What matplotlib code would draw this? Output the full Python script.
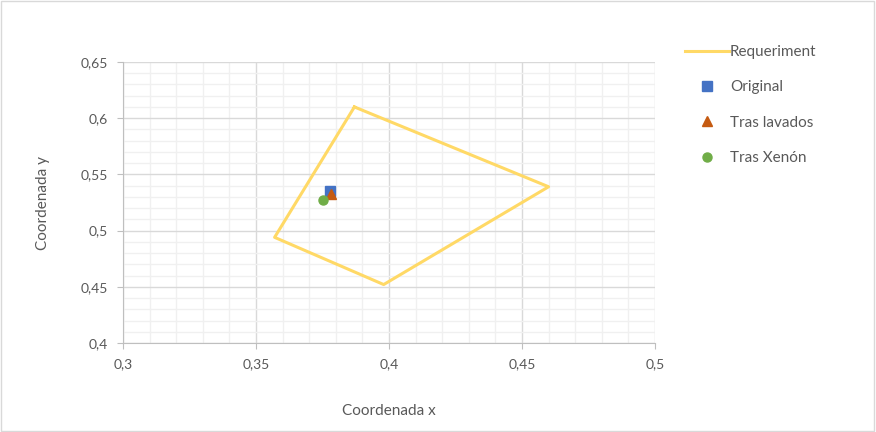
import matplotlib
matplotlib.use("Agg")
import matplotlib.pyplot as plt
from matplotlib.ticker import MultipleLocator, FuncFormatter
from matplotlib.lines import Line2D
from matplotlib.patches import Rectangle

# Data
req_x = [0.387, 0.460, 0.398, 0.357, 0.387]
req_y = [0.610, 0.539, 0.452, 0.494, 0.610]
orig_x = [0.3777]
orig_y = [0.5350]
lav_x = [0.3782]
lav_y = [0.5330]
xen_x = [0.3753]
xen_y = [0.5272]
series_labels = ["Requeriment", "Original", "Tras lavados", "Tras Xenón"]
x_label = "Coordenada x"
y_label = "Coordenada y"

plt.rcParams['font.family'] = ['Lato', 'DejaVu Sans']
txt = '#595959'

fig = plt.figure(figsize=(8.76, 4.32), dpi=100)
fig.patches.append(Rectangle((0.001, 0.002), 0.997, 0.995, transform=fig.transFigure,
                             fill=False, edgecolor='#d9d9d9', linewidth=1))
ax = fig.add_axes([0.1404, 0.206, 0.6073, 0.6505])

ax.set_xlim(0.3, 0.5)
ax.set_ylim(0.4, 0.65)
ax.xaxis.set_major_locator(MultipleLocator(0.05))
ax.xaxis.set_minor_locator(MultipleLocator(0.01))
ax.yaxis.set_major_locator(MultipleLocator(0.05))
ax.yaxis.set_minor_locator(MultipleLocator(0.01))

def fmt(v, pos):
    s = f"{v:.2f}".rstrip('0').rstrip('.')
    return s.replace('.', ',')
ax.xaxis.set_major_formatter(FuncFormatter(fmt))
ax.yaxis.set_major_formatter(FuncFormatter(fmt))

ax.grid(which='major', color='#d9d9d9', linewidth=1)
ax.grid(which='minor', color='#f0f0f0', linewidth=1)
ax.set_axisbelow(True)
for s in ['top', 'right']:
    ax.spines[s].set_visible(False)
for s in ['left', 'bottom']:
    ax.spines[s].set_color('#bfbfbf')
ax.tick_params(which='major', length=4, color='#bfbfbf', labelcolor=txt, labelsize=10, pad=7)
ax.tick_params(which='minor', length=0)

ax.plot(req_x, req_y, color='#FFD966', linewidth=2.2, label=series_labels[0], zorder=3)
ax.plot(orig_x, orig_y, 's', color='#4472C4', markersize=6.5, linestyle='none', label=series_labels[1], zorder=4)
ax.plot(lav_x, lav_y, '^', color='#C55A11', markersize=6.5, linestyle='none', label=series_labels[2], zorder=5)
ax.plot(xen_x, xen_y, 'o', color='#70AD47', markersize=6.5, linestyle='none', label=series_labels[3], zorder=6)

ax.set_xlabel(x_label, color=txt, fontsize=11, labelpad=24)
ax.set_ylabel(y_label, color=txt, fontsize=11, labelpad=22)

handles = [
    Line2D([], [], color='#FFD966', linewidth=2.2),
    Line2D([], [], marker='s', color='#4472C4', markersize=6.5, linestyle='none'),
    Line2D([], [], marker='^', color='#C55A11', markersize=6.5, linestyle='none'),
    Line2D([], [], marker='o', color='#70AD47', markersize=6.5, linestyle='none'),
]
leg = fig.legend(handles, series_labels, loc='upper left', bbox_to_anchor=(0.775, 0.91),
                 frameon=False, fontsize=11, labelspacing=1.4, handlelength=2.9,
                 handletextpad=0.05, borderaxespad=0)
for t in leg.get_texts():
    t.set_color(txt)

fig.savefig("out.png", dpi=100)
